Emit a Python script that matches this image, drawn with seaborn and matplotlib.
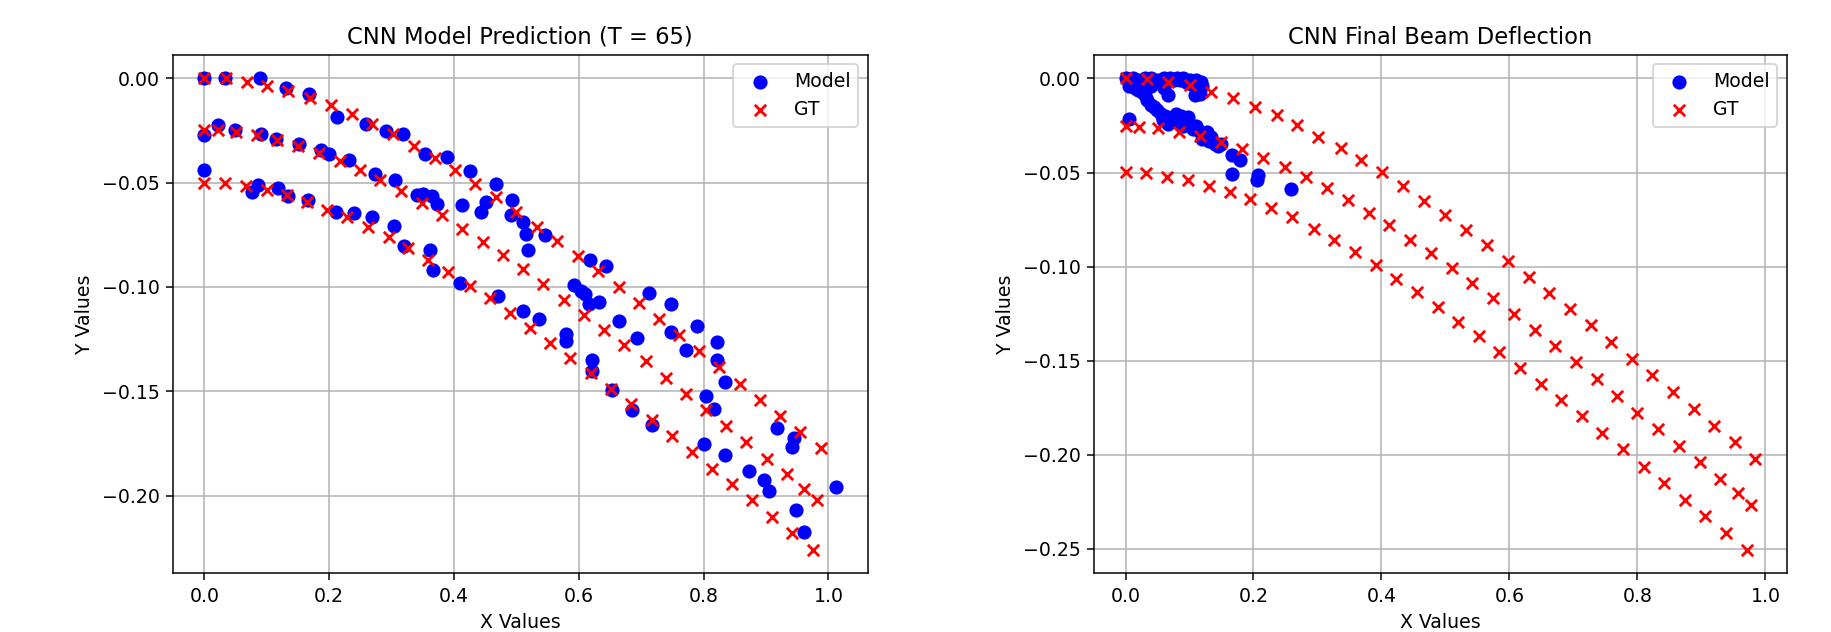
import numpy as np
import seaborn as sns
import matplotlib.pyplot as plt

# ---- left panel: prediction at T = 65 ----
# ground truth, three beams (top / middle / bottom)
gt_t65_top_x = [0, .034, .068, .101, .134, .169, .203, .236, .269, .302, .336, .369, .402, .434, .468,
                .500, .533, .565, .598, .631, .664, .696, .729, .761, .793, .825, .858, .891, .923, .955, .988]
gt_t65_top_y = [0, 0, -.0018, -.0038, -.0061, -.0093, -.0129, -.0169, -.0217, -.0268, -.0324, -.0380,
                -.0441, -.0505, -.0569, -.0640, -.0710, -.0780, -.0853, -.0925, -.1000, -.1077, -.1155,
                -.1229, -.1308, -.1384, -.1463, -.1540, -.1619, -.1697, -.1771]
gt_t65_mid_x = [0, .022, .050, .085, .116, .150, .183, .217, .249, .282, .315, .349, .381, .413, .446, .478,
                .511, .543, .576, .609, .641, .673, .707, .739, .772, .804, .836, .868, .901, .933, .961, .982]
gt_t65_mid_y = [-.0249, -.0246, -.0258, -.0273, -.0294, -.0326, -.0358, -.0398, -.0441, -.0489, -.0540,
                -.0597, -.0657, -.0721, -.0784, -.0847, -.0915, -.0988, -.1061, -.1133, -.1206, -.1280,
                -.1357, -.1435, -.1512, -.1588, -.1666, -.1743, -.1823, -.1895, -.1967, -.2020]
gt_t65_bot_x = [0, .033, .067, .100, .132, .165, .196, .229, .262, .295, .327, .359, .391, .425, .457,
                .489, .522, .554, .586, .620, .652, .684, .717, .749, .781, .814, .846, .878, .910, .942, .976]
gt_t65_bot_y = [-.0500, -.0502, -.0518, -.0534, -.0558, -.0590, -.0630, -.0665, -.0713, -.0761, -.0812,
                -.0869, -.0929, -.0993, -.1055, -.1125, -.1197, -.1269, -.1339, -.1413, -.1490, -.1563,
                -.1636, -.1716, -.1791, -.1871, -.1946, -.2023, -.2103, -.2180, -.2260]

# model prediction
model_t65_x = [0, .033, .089, .130, .168, .213, .259, .291, .318, .354, .388, .425, .468, .493,
               0, .022, .049, .090, .115, .151, .187, .200, .231, .274, .305, .340, .351, .364, .372,
               .413, .444, .452, .491,
               0, .076, .086, .118, .134, .166, .211, .239, .269, .304, .320, .361, .366, .409, .470,
               .511, .515, .545, .518, .618, .643, .593, .603, .610, .616, .633, .664, .712, .748, .747,
               .771, .789, .822, .822, .835, .804, .817, .653, .685, .718, .621, .621, .579, .580, .511,
               .536, .918, .945, .942, .800, .693,
               .835, .873, .896, .905, 1.012, .948, .960]
model_t65_y = [0, 0, 0, -.0045, -.0074, -.0185, -.0217, -.0252, -.0265, -.0364, -.0377, -.0444, -.0505,
               -.0585,
               -.0273, -.0225, -.0249, -.0265, -.0289, -.0316, -.0345, -.0364, -.0393, -.0457, -.0489,
               -.0561, -.0556, -.0564, -.0604, -.0609, -.0641, -.0593, -.0657,
               -.0441, -.0545, -.0513, -.0524, -.0564, -.0582, -.0638, -.0644, -.0665, -.0709, -.0805,
               -.0821, -.0920, -.0981, -.1045,
               -.0689, -.0748, -.0753, -.0821, -.0869, -.0901, -.0989, -.1020, -.1035, -.1080, -.1073,
               -.1165, -.1029, -.1080, -.1216, -.1304, -.1187, -.1264, -.1349, -.1456, -.1523, -.1584,
               -.1493, -.1588, -.1663, -.1352, -.1403, -.1224, -.1259, -.1117, -.1152, -.1675, -.1723,
               -.1767, -.1751, -.1243,
               -.1807, -.1882, -.1927, -.1978, -.1959, -.2068, -.2175]

# ---- right panel: final deflection ----
gt_fin_top_x = [0, .033, .067, .101, .134, .168, .202, .236, .268, .301, .336, .368, .401, .434, .467,
                .500, .532, .565, .597, .630, .662, .695, .727, .759, .791, .823, .856, .888, .920, .952, .984]
gt_fin_top_y = [0, -.0002, -.0021, -.0035, -.0070, -.0106, -.0150, -.0194, -.0247, -.0309, -.0367,
                -.0432, -.0498, -.0573, -.0649, -.0725, -.0807, -.0886, -.0969, -.1054, -.1139, -.1224,
                -.1311, -.1401, -.1488, -.1578, -.1665, -.1755, -.1844, -.1933, -.2021]
gt_fin_mid_x = [0, .021, .050, .083, .116, .149, .182, .215, .249, .282, .315, .348, .380, .412, .445, .477,
                .510, .542, .575, .607, .640, .671, .704, .736, .768, .800, .832, .865, .897, .929, .957, .977]
gt_fin_mid_y = [-.0251, -.0256, -.0261, -.0283, -.0306, -.0336, -.0375, -.0421, -.0468, -.0524, -.0582,
                -.0644, -.0713, -.0778, -.0856, -.0929, -.1008, -.1088, -.1169, -.1253, -.1338, -.1423,
                -.1509, -.1598, -.1686, -.1775, -.1861, -.1952, -.2040, -.2129, -.2205, -.2265]
gt_fin_bot_x = [0, .032, .065, .097, .130, .163, .195, .228, .260, .294, .326, .358, .391, .423, .455,
                .488, .520, .553, .584, .617, .649, .681, .713, .745, .778, .810, .842, .875, .906, .939, .971]
gt_fin_bot_y = [-.0499, -.0504, -.0522, -.0539, -.0569, -.0605, -.0642, -.0686, -.0738, -.0798, -.0859,
                -.0923, -.0990, -.1063, -.1136, -.1214, -.1292, -.1370, -.1455, -.1540, -.1625, -.1709,
                -.1796, -.1885, -.1970, -.2062, -.2150, -.2238, -.2327, -.2416, -.2504]

# the model output collapses into a tight blob near the clamp
model_fin_x = [0, .005, .012, .020, .030, .040, .050, .060, .070, .080, .090, .100, .110, .118, .103,
               .116, .067, .109, .005, .015, .025, .040,
               .033, .040, .049, .059, .066, .075, .079, .085, .086, .093, .098, .103, .106, .114, .119,
               .127, .133, .140, .145, .150, .005, .166, .179, .166, .207, .205, .259,
               .010, .020, .030, .045, .055, .062, .070, .085, .090, .095, .110, .122, .130, .137,
               .075, .085, .095, .060, .110, .120, .115]
model_fin_y = [0, -.001, 0, -.001, 0, 0, -.001, 0, 0, 0, 0, -.001, -.001, -.0017, -.0028,
               -.0081, -.009, -.009, -.004, -.005, -.007, -.004,
               -.0116, -.014, -.017, -.0222, -.024, -.022, -.0187, -.024, -.020, -.0222, -.0205, -.0249,
               -.0267, -.0276, -.032, -.0284, -.031, -.0346, -.036, -.035, -.0213, -.0408, -.0435,
               -.0506, -.0515, -.0541, -.0587,
               -.003, -.006, -.009, -.015, -.019, -.020, -.021, -.023, -.025, -.024, -.025, -.030,
               -.033, -.034, -.001, -.001, -.002, -.005, -.004, -.004, -.007]

DPI = 136
fig = plt.figure(figsize=(1831 / DPI, 632 / DPI), dpi=DPI)
ax1 = fig.add_axes([0.0944, 0.0929, 0.3794, 0.8202])
ax2 = fig.add_axes([0.5975, 0.0929, 0.3783, 0.8202])


def draw(ax, mx, my, gx, gy, title):
    sns.scatterplot(x=mx, y=my, color="blue", marker="o", s=36, edgecolor="blue", linewidth=1.5,
                    label="Model", ax=ax)
    sns.scatterplot(x=gx, y=gy, color="red", marker="x", s=36, linewidth=1.5, label="GT", ax=ax)
    ax.set_title(title, fontsize=12)
    ax.set_xlabel("X Values")
    ax.set_ylabel("Y Values")
    ax.set_axisbelow(True)
    ax.grid(True)
    ax.legend(loc="upper right")


draw(ax1, model_t65_x, model_t65_y,
     gt_t65_top_x + gt_t65_mid_x + gt_t65_bot_x,
     gt_t65_top_y + gt_t65_mid_y + gt_t65_bot_y,
     "CNN Model Prediction (T = 65)")
draw(ax2, model_fin_x, model_fin_y,
     gt_fin_top_x + gt_fin_mid_x + gt_fin_bot_x,
     gt_fin_top_y + gt_fin_mid_y + gt_fin_bot_y,
     "CNN Final Beam Deflection")

fig.savefig("out.png", dpi=DPI)
